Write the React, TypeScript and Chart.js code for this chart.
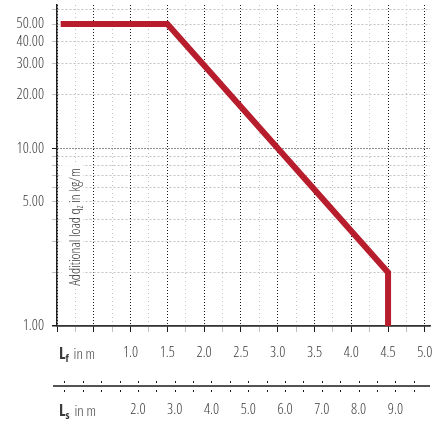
import React, { useEffect, useRef } from 'react';
import { Chart, registerables } from 'chart.js';

Chart.register(...registerables);

// ---- data ----
const LF_VALUES = [0.05, 1.5, 4.5, 4.5];
const LOAD_VALUES = [50, 50, 2, 1];

const Y_TICKS = [1, 2, 3, 4, 5, 6, 7, 8, 9, 10, 20, 30, 40, 50, 60];
const Y_LABELED = [1, 5, 10, 20, 30, 40, 50];
const Y_DARK = [10];

const LF_TICKS = [0, 0.25, 0.5, 0.75, 1, 1.25, 1.5, 1.75, 2, 2.25, 2.5, 2.75, 3, 3.25, 3.5, 3.75, 4, 4.25, 4.5, 4.75, 5];
const LF_LABELED = [1, 1.5, 2, 2.5, 3, 3.5, 4, 4.5, 5];

const LS_TICKS = [0, 0.5, 1, 1.5, 2, 2.5, 3, 3.5, 4, 4.5, 5, 5.5, 6, 6.5, 7, 7.5, 8, 8.5, 9, 9.5];
const LS_LABELED = [2, 3, 4, 5, 6, 7, 8, 9];

const Y_TITLE = ['Additional load q', 'z', ' in kg/m'];
const LF_TITLE = ['L', 'f', ' in m'];
const LS_TITLE = ['L', 's', ' in m'];

const FAMILY = "'Open Sans', Roboto, sans-serif";
const LIGHT_W = '300 condensed';
const TEXT = '#3a3a3a';
const DARK = '#1a1a1a';
const LIGHT = '#c2c2c2';
const RED = '#b71d2c';

// style '' keeps Chart.js from prefixing "normal" so the font string is "300 condensed 15px ..."
const tickFont = { family: FAMILY, size: 15, weight: LIGHT_W, style: '' };

const zeroPad = (s: any) => {
  s.paddingLeft = 0;
  s.paddingRight = 0;
  s.paddingTop = 0;
  s.paddingBottom = 0;
};

const isDarkX = (c: any) => c.tick && c.tick.value % 0.5 === 0;
const isDarkY = (c: any) => c.tick && (Y_DARK.includes(c.tick.value) || c.tick.value === 1);

const overlay = {
  id: 'overlay',
  beforeDatasetsDraw(chart: any) {
    const { ctx, chartArea } = chart;
    const ls = chart.scales.ls;
    // y title with white background
    ctx.save();
    ctx.translate(80, 227);
    ctx.rotate(-Math.PI / 2);
    const big = `${LIGHT_W} 14px ${FAMILY}`;
    const small = `${LIGHT_W} 10px ${FAMILY}`;
    ctx.font = big;
    const w0 = ctx.measureText(Y_TITLE[0]).width;
    const w2 = ctx.measureText(Y_TITLE[2]).width;
    ctx.font = small;
    const w1 = ctx.measureText(Y_TITLE[1]).width;
    const total = w0 + w1 + w2;
    let x = -total / 2;
    ctx.fillStyle = '#fff';
    ctx.fillRect(x - 3, -18, total + 6, 21);
    ctx.fillStyle = TEXT;
    ctx.textBaseline = 'alphabetic';
    ctx.font = big;
    ctx.fillText(Y_TITLE[0], x, 0);
    x += w0;
    ctx.font = small;
    ctx.fillText(Y_TITLE[1], x, 2.5);
    x += w1;
    ctx.font = big;
    ctx.fillText(Y_TITLE[2], x, 0);
    ctx.restore();

    // Ls axis line and dots
    ctx.save();
    const lineY = ls.top;
    ctx.strokeStyle = DARK;
    ctx.lineWidth = 1.5;
    ctx.beginPath();
    ctx.moveTo(chartArea.left - 4, lineY);
    ctx.lineTo(chartArea.right, lineY);
    ctx.stroke();
    ctx.fillStyle = DARK;
    LS_TICKS.forEach((v) => {
      const px = Math.round(ls.getPixelForValue(v));
      ctx.fillRect(px, lineY - 5, 1, 2);
      ctx.fillRect(px, lineY + 4, 1, 2);
    });
    ctx.restore();

    // axis name labels
    const drawName = (parts: string[], baseY: number) => {
      ctx.save();
      ctx.fillStyle = TEXT;
      ctx.textBaseline = 'alphabetic';
      let xx = chartArea.left + 2;
      ctx.font = `bold condensed 16px ${FAMILY}`;
      ctx.fillText(parts[0], xx, baseY);
      xx += ctx.measureText(parts[0]).width;
      ctx.font = `bold condensed 11px ${FAMILY}`;
      ctx.fillText(parts[1], xx, baseY + 3);
      xx += ctx.measureText(parts[1]).width + 2;
      ctx.font = `${LIGHT_W} 15px ${FAMILY}`;
      ctx.fillText(parts[2], xx, baseY);
      ctx.restore();
    };
    drawName(LF_TITLE, chart.scales.x.top + 33);
    drawName(LS_TITLE, ls.top + 30);
  },
};

export default function App() {
  const ref = useRef<HTMLCanvasElement | null>(null);
  useEffect(() => {
    if (!ref.current) return;
    const chart = new Chart(ref.current, {
      type: 'line',
      data: {
        datasets: [
          {
            data: LF_VALUES.map((x, i) => ({ x, y: LOAD_VALUES[i] })),
            borderColor: RED,
            borderWidth: 6,
            pointRadius: 0,
            tension: 0,
            fill: false,
            borderJoinStyle: 'miter',
          },
        ],
      },
      plugins: [overlay],
      options: {
        animation: false,
        responsive: false,
        devicePixelRatio: 1,
        layout: { padding: { top: 5, right: 5, left: 0, bottom: 0 } },
        plugins: { legend: { display: false }, tooltip: { enabled: false } },
        scales: {
          x: {
            type: 'linear',
            position: 'bottom',
            min: 0,
            max: 5.07,
            afterBuildTicks: (s: any) => {
              s.ticks = LF_TICKS.map((v) => ({ value: v }));
            },
            afterFit: (s: any) => {
              s.height = 60;
              zeroPad(s);
            },
            border: {
              display: true,
              color: '#333',
              width: 1.5,
              dash: (c: any) => (isDarkX(c) ? [1, 2] : [1, 3]),
            },
            grid: {
              color: (c: any) => (isDarkX(c) ? DARK : LIGHT),
              tickColor: (c: any) => (isDarkX(c) ? DARK : LIGHT),
              lineWidth: 1,
              tickLength: 6,
            },
            ticks: {
              autoSkip: false,
              maxRotation: 0,
              padding: 12,
              color: TEXT,
              font: tickFont,
              callback: (v: any) => (LF_LABELED.includes(v) ? Number(v).toFixed(1) : ''),
            },
          },
          ls: {
            type: 'linear',
            position: 'bottom',
            min: -0.2,
            max: 9.94,
            afterBuildTicks: (s: any) => {
              s.ticks = LS_TICKS.map((v) => ({ value: v }));
            },
            afterFit: (s: any) => {
              s.height = 40;
              zeroPad(s);
            },
            border: { display: false },
            grid: { display: false, drawTicks: false, drawOnChartArea: false },
            ticks: {
              autoSkip: false,
              maxRotation: 0,
              padding: 15,
              color: TEXT,
              font: tickFont,
              callback: (v: any) => (LS_LABELED.includes(v) ? Number(v).toFixed(1) : ''),
            },
          },
          y: {
            type: 'logarithmic',
            min: 1,
            max: 64,
            afterBuildTicks: (s: any) => {
              s.ticks = Y_TICKS.map((v) => ({ value: v }));
            },
            afterFit: (s: any) => {
              s.width = 57;
              zeroPad(s);
            },
            border: {
              display: true,
              color: '#222',
              width: 1.5,
              dash: (c: any) =>
                c.tick && c.tick.value === 1 ? [] : isDarkY(c) ? [1, 2] : [2, 2],
            },
            grid: {
              color: (c: any) => (isDarkY(c) ? DARK : LIGHT),
              tickColor: (c: any) => (isDarkY(c) ? DARK : LIGHT),
              lineWidth: (c: any) => (c.tick && c.tick.value === 1 ? 1.5 : 1),
              tickLength: 5,
            },
            ticks: {
              autoSkip: false,
              padding: 8,
              color: TEXT,
              font: tickFont,
              callback: (v: any) => (Y_LABELED.includes(v) ? Number(v).toFixed(2) : ''),
            },
          },
        },
      } as any,
    });
    return () => chart.destroy();
  }, []);
  return (
    <div style={{ position: 'absolute', left: 0, top: 0, width: 435, height: 426, background: '#fff' }}>
      <canvas ref={ref} width={435} height={426} style={{ display: 'block' }} />
    </div>
  );
}
